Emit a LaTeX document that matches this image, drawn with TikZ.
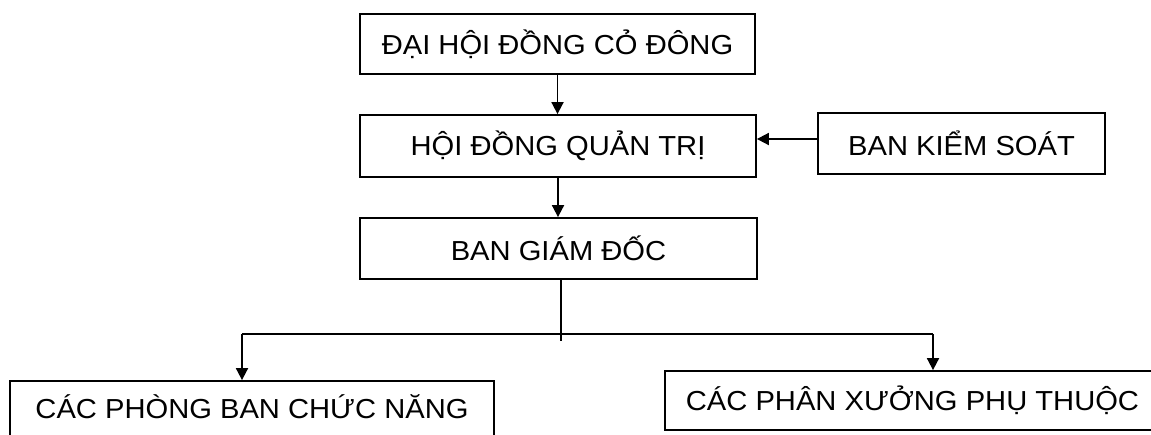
\documentclass[tikz,border=0pt]{standalone}
\usepackage{fontspec}
\setmainfont{Liberation Sans}[FakeStretch=1.06]
\usetikzlibrary{arrows.meta}
\tikzset{
  orgbox/.style={draw=black, line width=1.8pt, rectangle, inner sep=0pt,
    font=\fontsize{27.5}{32}\selectfont, text=black},
  conn/.style={draw=black, line width=1.8pt},
  arr/.style={conn, -{Triangle[length=12pt,width=12pt]}}
}
\begin{document}
\begin{tikzpicture}[x=1pt,y=-1pt]
\useasboundingbox (0,0) rectangle (1151,434);
\clip (0,0) rectangle (1151,434);
\fill[white] (0,0) rectangle (1151,434);
% nodes
\node[orgbox, minimum width=395pt, minimum height=60pt] (dhcd) at (557.5,44) {ĐẠI HỘI ĐỒNG CỎ ĐÔNG};
\node[orgbox, minimum width=396pt, minimum height=62pt] (hdqt) at (558,146) {HỘI ĐỒNG QUẢN TRỊ};
\node[orgbox, minimum width=287pt, minimum height=61pt] (bks) at (961.5,143.5) {BAN KIỂM SOÁT};
\node[orgbox, minimum width=397pt, minimum height=61pt] (bgd) at (558.5,248.5) {BAN GIÁM ĐỐC};
\node[orgbox, minimum width=484pt, minimum height=60pt] (cpb) at (252,411) {\raisebox{8pt}{CÁC PHÒNG BAN CHỨC NĂNG}};
\node[orgbox, minimum width=500pt, minimum height=59pt] (cpx) at (915,400.5) {\hspace*{-5pt}CÁC PHÂN XƯỞNG PHỤ THUỘC};
% bus coordinates
\coordinate (busL) at (242,334);
\coordinate (busR) at (933,334);
\coordinate (stub) at (561,341);
% connectors
\draw[arr] (dhcd.south) -- (dhcd.south |- hdqt.north);
\draw[arr] (hdqt.south) -- (hdqt.south |- bgd.north);
\draw[arr] (bks.west |- 0,139) -- (hdqt.east |- 0,139);
\draw[conn] (bgd.south -| stub) -- (stub);
\draw[conn] (busL) -- (busR);
\draw[arr] (busL) -- (busL |- cpb.north);
\draw[arr] (busR) -- (busR |- cpx.north);
\end{tikzpicture}
\end{document}
